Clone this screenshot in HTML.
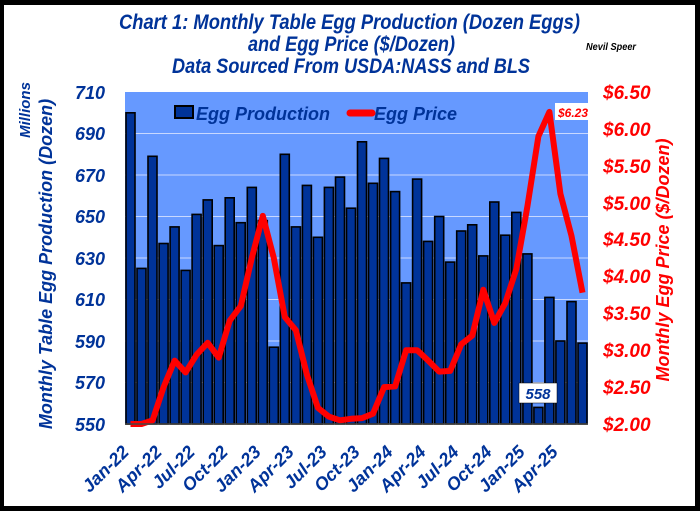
<!DOCTYPE html>
<html><head><meta charset="utf-8"><style>
body{margin:0;width:700px;height:511px;overflow:hidden;background:#fff}
svg{display:block;font-family:"Liberation Sans",sans-serif;font-weight:bold;font-style:italic}
</style></head><body>
<svg id="s" width="700" height="511" viewBox="0 0 700 511">
<rect x="0" y="0" width="700" height="511" fill="#000"/>
<rect x="4" y="5" width="691" height="501" fill="#fff"/>
<rect x="125" y="92" width="463" height="332" fill="#6699ff"/>
<g stroke="#c8d8ff" stroke-width="1">
<line x1="125" x2="588" y1="133.5" y2="133.5"/><line x1="125" x2="588" y1="175" y2="175"/>
<line x1="125" x2="588" y1="216.5" y2="216.5"/><line x1="125" x2="588" y1="258" y2="258"/>
<line x1="125" x2="588" y1="299.5" y2="299.5"/><line x1="125" x2="588" y1="341" y2="341"/>
<line x1="125" x2="588" y1="382.5" y2="382.5"/>
</g>
<g id="bars"></g>
<polyline id="pl" fill="none" stroke="#ff0000" stroke-width="6" stroke-linejoin="round"/>
<line x1="125" x2="588" y1="424" y2="424" stroke="#444" stroke-width="1.5"/>
<g fill="#003399" font-size="21">
<text x="119" y="29" textLength="461" lengthAdjust="spacingAndGlyphs">Chart 1:  Monthly Table Egg Production (Dozen Eggs)</text>
<text x="248" y="51" textLength="207" lengthAdjust="spacingAndGlyphs">and Egg Price ($/Dozen)</text>
<text x="172" y="73" textLength="358" lengthAdjust="spacingAndGlyphs">Data Sourced From USDA:NASS and BLS</text>
</g>
<text x="586" y="50" font-size="10" fill="#000" textLength="50" lengthAdjust="spacingAndGlyphs">Nevil Speer</text>
<g fill="#003399" font-size="18" text-anchor="end">
<text x="105" y="99">710</text><text x="105" y="140">690</text><text x="105" y="182">670</text>
<text x="105" y="223">650</text><text x="105" y="265">630</text><text x="105" y="306">610</text>
<text x="105" y="348">590</text><text x="105" y="389">570</text><text x="105" y="431">550</text>
</g>
<g fill="#ff0000" font-size="19" text-anchor="start">
<text x="603" y="99">$6.50</text><text x="603" y="136">$6.00</text><text x="603" y="173">$5.50</text>
<text x="603" y="210">$5.00</text><text x="603" y="246">$4.50</text><text x="603" y="283">$4.00</text>
<text x="603" y="320">$3.50</text><text x="603" y="357">$3.00</text><text x="603" y="394">$2.50</text>
<text x="603" y="431">$2.00</text>
</g>
<text transform="translate(52,264) rotate(-90)" font-size="18" fill="#003399" text-anchor="middle">Monthly Table Egg Production (Dozen)</text>
<text transform="translate(30,110) rotate(-90)" font-size="15" fill="#003399" text-anchor="middle">Millions</text>
<text transform="translate(669,260) rotate(-90)" font-size="18" fill="#ff0000" text-anchor="middle">Monthly Egg Price ($/Dozen)</text>
<g fill="#003399" font-size="18" text-anchor="end">
<text transform="translate(130,453) rotate(-45)">Jan-22</text>
<text transform="translate(163,453) rotate(-45)">Apr-22</text>
<text transform="translate(196,453) rotate(-45)">Jul-22</text>
<text transform="translate(229,453) rotate(-45)">Oct-22</text>
<text transform="translate(262,453) rotate(-45)">Jan-23</text>
<text transform="translate(295,453) rotate(-45)">Apr-23</text>
<text transform="translate(328,453) rotate(-45)">Jul-23</text>
<text transform="translate(361,453) rotate(-45)">Oct-23</text>
<text transform="translate(394,453) rotate(-45)">Jan-24</text>
<text transform="translate(427,453) rotate(-45)">Apr-24</text>
<text transform="translate(460,453) rotate(-45)">Jul-24</text>
<text transform="translate(493,453) rotate(-45)">Oct-24</text>
<text transform="translate(526,453) rotate(-45)">Jan-25</text>
<text transform="translate(559,453) rotate(-45)">Apr-25</text>
</g>
<rect x="175" y="106" width="18" height="12" fill="#003399" stroke="#000" stroke-width="2"/>
<text x="196" y="120" font-size="18" fill="#003399">Egg Production</text>
<line x1="350" x2="372" y1="113" y2="113" stroke="#ff0000" stroke-width="7" stroke-linecap="round"/>
<text x="374" y="120" font-size="18" fill="#003399">Egg Price</text>
<rect x="555" y="103" width="40" height="17" fill="#fff"/>
<text x="558" y="117" font-size="12" fill="#ff0000">$6.23</text>
<rect x="519" y="383" width="38" height="20" fill="#fff" stroke="#000" stroke-width="0.5"/>
<text x="538" y="399" font-size="15" fill="#003399" text-anchor="middle">558</text>
</svg>
<script>
var prod=[700,625,679,637,645,624,651,658,636,659,647,664,648,587,680,645,665,640,664,669,654,686,666,678,662,618,668,638,650,628,643,646,631,657,641,652,632,558,611,590,609,589];
var price=[1.98,2.0,2.05,2.5,2.86,2.7,2.94,3.1,2.9,3.4,3.6,4.25,4.82,4.25,3.45,3.27,2.67,2.22,2.1,2.05,2.07,2.08,2.14,2.5,2.51,3.0,3.0,2.86,2.71,2.72,3.08,3.2,3.82,3.37,3.64,4.1,4.95,5.9,6.23,5.12,4.55,3.78];
var w=463/42,g=document.getElementById('bars'),h='',pts=[];
for(var i=0;i<42;i++){var x=125+i*w,y=424-(prod[i]-550)/160*332;
h+='<rect x="'+(x+1).toFixed(1)+'" y="'+y.toFixed(1)+'" width="'+(w-2).toFixed(1)+'" height="'+(424-y).toFixed(1)+'" fill="#003399" stroke="#000" stroke-width="1.6"/>';
var py=424-(price[i]-2)/4.5*332;pts.push((x+w/2).toFixed(1)+','+Math.min(py,424).toFixed(1));}
g.innerHTML=h;document.getElementById('pl').setAttribute('points',pts.join(' '));
</script>
</body></html>
